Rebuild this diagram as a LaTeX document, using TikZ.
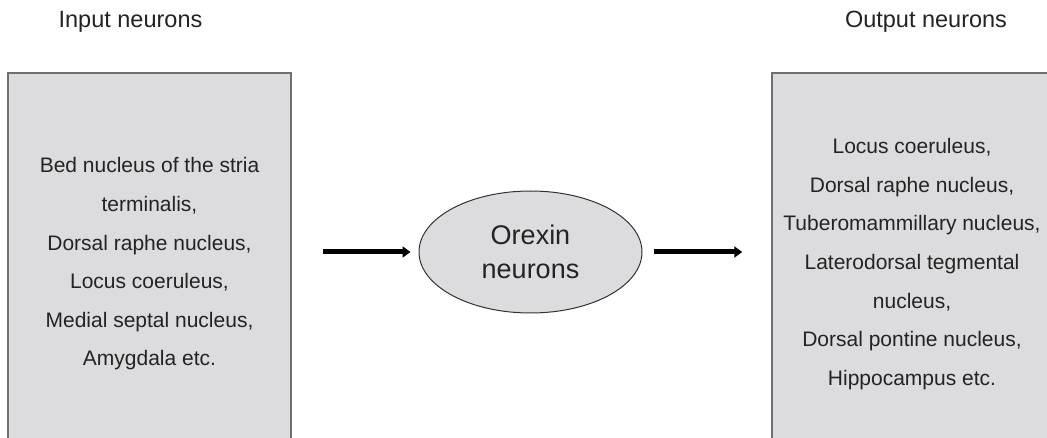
\documentclass[tikz,border=0pt]{standalone}
\usepackage{fontspec}
\setmainfont{Liberation Sans}
\usepackage{tikz}
\usetikzlibrary{arrows.meta, shapes.geometric}
\definecolor{boxgray}{RGB}{220,220,222}
\definecolor{edgegray}{RGB}{112,112,112}
\definecolor{txtgray}{RGB}{35,35,35}

\begin{document}
\begin{tikzpicture}[x=1pt, y=-1pt, every node/.style={text=txtgray}]
  \useasboundingbox (0,0) rectangle (1047,438);
  \clip (0,0) rectangle (1047,438);

  % Column titles
  \node[font=\fontsize{23.5}{28}\selectfont] (intitle) at (130.5,22) {Input neurons};
  \node[font=\fontsize{23.5}{28}\selectfont] (outtitle) at (926,22) {Output neurons};

  % Left panel: input neurons (runs off the bottom edge)
  \node[rectangle, fill=boxgray, draw=edgegray, line width=1.5pt,
        minimum width=283pt, minimum height=382pt, inner sep=0pt,
        font=\fontsize{21}{38.6}\selectfont, align=center]
    (inbox) at (149.5,264) {Bed nucleus of the stria\\terminalis,\\Dorsal raphe nucleus,\\Locus coeruleus,\\Medial septal nucleus,\\Amygdala etc.};

  % Central ellipse
  \node[ellipse, fill=boxgray, draw=black!80, line width=1pt,
        minimum width=223pt, minimum height=122pt, inner sep=0pt,
        font=\fontsize{27}{34}\selectfont, align=center]
    (orexin) at (530.5,252) {Orexin\\neurons};

  % Right panel: output neurons (runs off the right and bottom edges)
  \node[rectangle, fill=boxgray, draw=edgegray, line width=1.5pt,
        minimum width=280pt, minimum height=382pt, inner sep=0pt,
        font=\fontsize{21}{38.6}\selectfont, align=center]
    (outbox) at (912,264) {Locus coeruleus,\\Dorsal raphe nucleus,\\Tuberomammillary nucleus,\\Laterodorsal tegmental\\nucleus,\\Dorsal pontine nucleus,\\Hippocampus etc.};

  % Arrows
  \draw[line width=5pt, -{Triangle[length=8pt, width=11pt]}, shorten <=31pt, shorten >=8pt]
    (orexin.west -| inbox.east) -- (orexin.west);
  \draw[line width=5pt, -{Triangle[length=8pt, width=11pt]}, shorten <=11pt, shorten >=29pt]
    (orexin.east) -- (orexin.east -| outbox.west);
\end{tikzpicture}
\end{document}
